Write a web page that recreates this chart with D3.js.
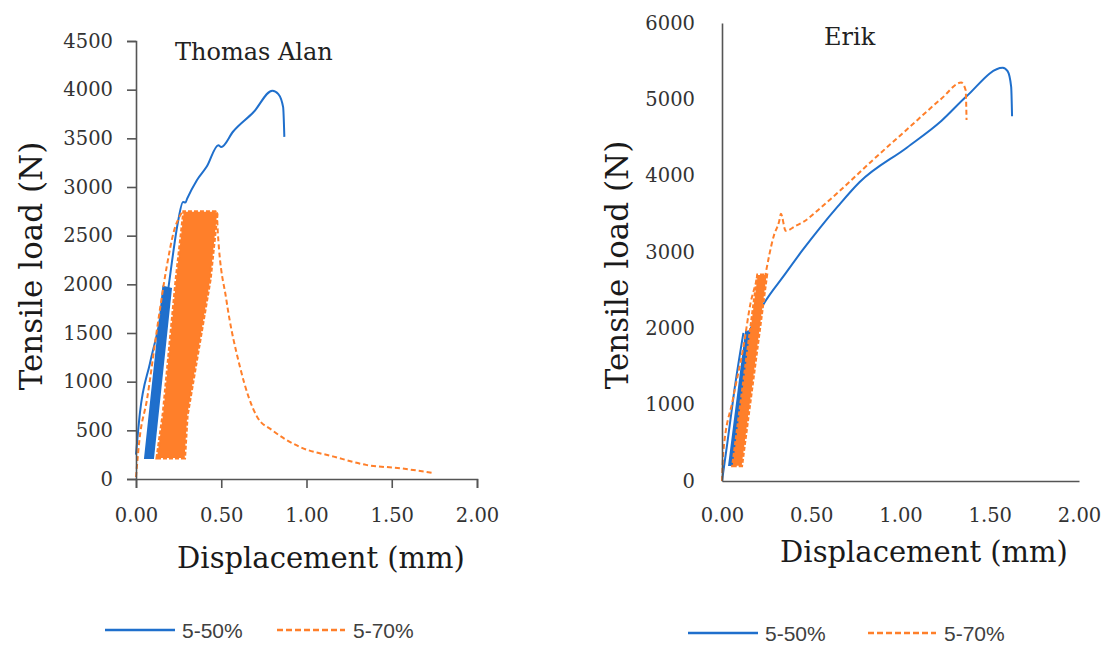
<!DOCTYPE html>
<html>
<head>
<meta charset="utf-8">
<script src="https://cdn.jsdelivr.net/npm/d3@7"></script>
<style>
  body { margin: 0; background: #fff; }
  svg { display: block; }
  .axis path, .axis line { stroke: #555; stroke-width: 1.6; }
</style>
</head>
<body>
<script>
// ---- data (displacement mm, tensile load N) ----
var xTicks = [0, 0.5, 1, 1.5, 2];
var thomasYTicks = [0, 500, 1000, 1500, 2000, 2500, 3000, 3500, 4000, 4500];
var erikYTicks = [0, 1000, 2000, 3000, 4000, 5000, 6000];
var seriesNames = ["5-50%", "5-70%"];

// Thomas Alan
var thomas50Rise = [[0, 250], [0.023, 680], [0.082, 1190], [0.14, 1630], [0.17, 1940], [0.19, 1960]];
var thomas50Band = [[0.053, 216], [0.10, 216], [0.205, 1955], [0.16, 1975]];
var thomas50Main = [[0.19, 1960], [0.21, 2220], [0.245, 2630], [0.276, 2846], [0.29, 2840],
  [0.30, 2880], [0.357, 3070], [0.415, 3210], [0.483, 3430], [0.50, 3410], [0.57, 3570],
  [0.69, 3770], [0.80, 3990], [0.835, 3955], [0.863, 3820], [0.87, 3515]];
var thomas70Band = [[0.123, 216], [0.285, 216], [0.30, 650], [0.435, 2050], [0.475, 2720],
  [0.465, 2745], [0.28, 2745], [0.235, 2045], [0.16, 678]];
var thomas70Rise = [[0, 20], [0.02, 400], [0.064, 812], [0.12, 1500], [0.18, 2180], [0.22, 2530], [0.27, 2740]];
var thomas70Tail = [[0.475, 2740], [0.48, 2530], [0.53, 1840], [0.61, 1150], [0.71, 640], [0.80, 500],
  [0.96, 330], [1.16, 230], [1.35, 145], [1.55, 110], [1.75, 60]];

// Erik
var erik50Rise = [[0, 0], [0.03, 500], [0.07, 1200], [0.12, 1940]];
var erik50Band = [[0.04, 210], [0.075, 210], [0.16, 1950], [0.135, 1960]];
var erik50Main = [[0.15, 1950], [0.236, 2330], [0.35, 2700], [0.45, 3020], [0.55, 3320],
  [0.65, 3600], [0.77, 3913], [1.037, 4370], [1.23, 4720], [1.37, 5040], [1.573, 5415],
  [1.60, 5369], [1.62, 5164], [1.625, 4778]];
var erik70Band = [[0.06, 200], [0.11, 200], [0.25, 2700], [0.20, 2700]];
var erik70Rise = [[0, 0], [0.007, 370], [0.06, 1060], [0.12, 1755], [0.16, 2330], [0.19, 2600], [0.20, 2700]];
var erik70Main = [[0.24, 2660], [0.29, 3210], [0.32, 3400], [0.33, 3500], [0.357, 3277], [0.415, 3345],
  [0.455, 3393], [0.55, 3575], [0.65, 3780], [0.843, 4200], [1.036, 4605], [1.23, 5010],
  [1.34, 5220], [1.365, 5120], [1.37, 4730]];

var blue = "#1f6fcc", orange = "#ff7f2a";

var svg = d3.select("body").append("svg")
    .attr("width", 1105)
    .attr("height", 646);

function drawChart(c){
    var x = d3.scaleLinear().domain([0, 2]).range(c.xRange);
    var y = d3.scaleLinear().domain(c.yDomain).range(c.yRange);
    var g = svg.append("g");

    var line = d3.line()
        .x(function(d){ return x(d[0]); })
        .y(function(d){ return y(d[1]); })
        .curve(d3.curveMonotoneX);
    var poly = d3.line()
        .x(function(d){ return x(d[0]); })
        .y(function(d){ return y(d[1]); })
        .curve(d3.curveLinearClosed);

    // 5-50% first, then 5-70% drawn on top
    g.append("path").attr("d", poly(c.blueBand))
        .attr("fill", blue).attr("stroke", blue).attr("stroke-width", 2);
    c.blueLines.forEach(function(s){
        g.append("path").datum(s).attr("d", line)
            .attr("fill", "none").attr("stroke", blue).attr("stroke-width", 2);
    });
    g.append("path").attr("d", poly(c.orangeBand))
        .attr("fill", orange).attr("stroke", orange).attr("stroke-width", 3)
        .attr("stroke-dasharray", "4,2");
    c.orangeLines.forEach(function(s){
        g.append("path").datum(s).attr("d", line)
            .attr("fill", "none").attr("stroke", orange).attr("stroke-width", 2)
            .attr("stroke-dasharray", "5,3");
    });

    g.append("g")
        .attr("class", "axis")
        .attr("transform", "translate(0," + c.yRange[0] + ")")
        .call(d3.axisBottom(x).tickValues(xTicks).tickFormat(d3.format(".2f"))
            .tickSize(c.tick).tickSizeOuter(c.tick).tickPadding(c.xPad));

    g.append("g")
        .attr("class", "axis")
        .attr("transform", "translate(" + c.xRange[0] + ",0)")
        .call(d3.axisLeft(y).tickValues(c.yTicks).tickFormat(d3.format("d"))
            .tickSize(c.tick).tickSizeOuter(c.tick).tickPadding(c.yPad));

    g.selectAll(".axis text")
        .style("font-family", "DejaVu Serif, serif")
        .style("font-size", "19.5px")
        .style("fill", "#333");

    g.append("text")
        .attr("x", c.title[1]).attr("y", c.title[2])
        .style("font-family", "DejaVu Serif, serif").style("font-size", "24px")
        .style("fill", "#222")
        .text(c.title[0]);

    g.append("text")
        .attr("transform", "translate(" + c.yLab[0] + "," + c.yLab[1] + ") rotate(-90)")
        .style("text-anchor", "middle")
        .style("font-family", "DejaVu Serif, serif").style("font-size", "31px")
        .style("fill", "#1a1a1a")
        .text("Tensile load (N)");

    g.append("text")
        .attr("x", c.xLab[0]).attr("y", c.xLab[1])
        .style("text-anchor", "middle")
        .style("font-family", "DejaVu Serif, serif").style("font-size", "29px")
        .style("fill", "#1a1a1a")
        .text("Displacement (mm)");

    // legend
    var L = c.legend;
    g.append("line").attr("x1", L[0]).attr("x2", L[0] + 70).attr("y1", L[2]).attr("y2", L[2])
        .attr("stroke", blue).attr("stroke-width", 2.5);
    g.append("line").attr("x1", L[1]).attr("x2", L[1] + 68).attr("y1", L[2]).attr("y2", L[2])
        .attr("stroke", orange).attr("stroke-width", 2.5).attr("stroke-dasharray", "6,3");
    g.selectAll("legtext")
      .data(seriesNames)
      .enter()
      .append("text")
        .attr("x", function(d, i){ return (i == 0 ? L[0] + 77 : L[1] + 76); })
        .attr("y", L[2] + 8)
        .style("font-family", "Liberation Sans, sans-serif").style("font-size", "21px")
        .style("fill", "#404040")
        .text(function(d){ return d; });
}

drawChart({
    xRange: [136, 477], yDomain: [0, 4500], yRange: [479, 41], yTicks: thomasYTicks,
    tick: 9, xPad: 20, yPad: 14,
    blueBand: thomas50Band, blueLines: [thomas50Rise, thomas50Main],
    orangeBand: thomas70Band, orangeLines: [thomas70Rise, thomas70Tail],
    title: ["Thomas Alan", 175, 60],
    yLab: [42, 266], xLab: [321, 568], legend: [105, 277, 630]
});

drawChart({
    xRange: [722, 1079], yDomain: [0, 6000], yRange: [481, 23], yTicks: erikYTicks,
    tick: 0, xPad: 27, yPad: 27,
    blueBand: erik50Band, blueLines: [erik50Rise, erik50Main],
    orangeBand: erik70Band, orangeLines: [erik70Rise, erik70Main],
    title: ["Erik", 824, 45],
    yLab: [628, 265], xLab: [924, 562], legend: [688, 868, 633]
});
</script>
</body>
</html>
